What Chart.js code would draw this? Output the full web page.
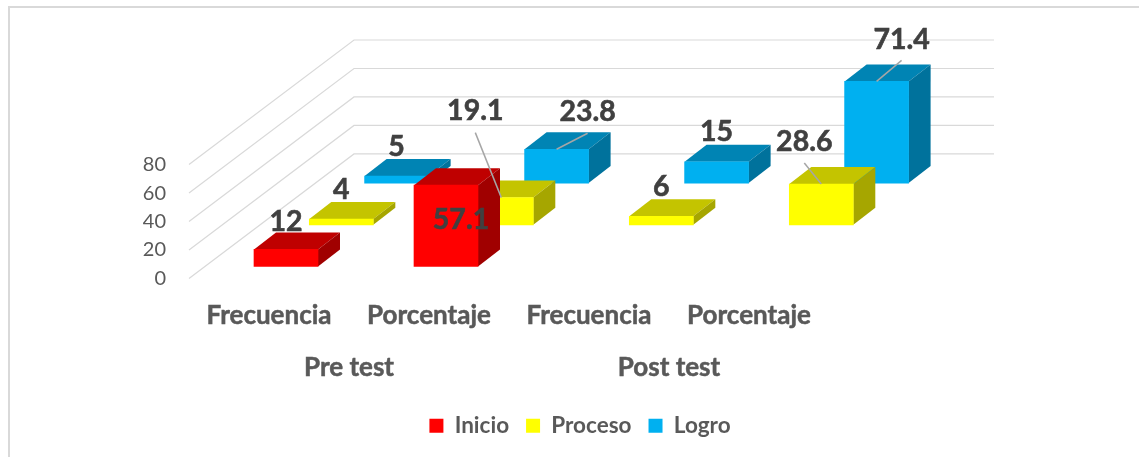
<!DOCTYPE html>
<html><head><meta charset="utf-8">
<script src="https://cdn.jsdelivr.net/npm/chart.js@4"></script>
<style>html,body{margin:0;padding:0;background:#fff}canvas{display:block}</style>
</head><body><canvas id="c" width="1139" height="457"></canvas>
<script>
const categories = ["Frecuencia", "Porcentaje", "Frecuencia", "Porcentaje"];
const groupLabels = ["Pre test", "Post test"];
const yTicks = [0, 20, 40, 60, 80];
const inicio = [12, 57.1, null, null];
const proceso = [4, 19.1, 6, 28.6];
const logro = [5, 23.8, 15, 71.4];

// 3D projection settings (separate from the data)
const wallShift = {x: 165, y: -124.6};
const rowShift = [{x: 17, y: -12}, {x: 72.3, y: -53.7}, {x: 127.6, y: -95.4}];
const barDepth = {x: 22, y: -17};
const legendShift = {x: 101, y: -3};
const faceColors = [
  {front: "#ff0000", top: "#bf0000", side: "#a00000"},
  {front: "#ffff00", top: "#c4c400", side: "#a6a600"},
  {front: "#00b0f0", top: "#0084b4", side: "#00729c"}
];
const labelOffsets = [
  [[0, -28], [15, 35], null, null],
  [[0, -29], [-26, -87], [0, -29], [-17, -42]],
  [[0, -29], [31, -37], [0, -30], [25, -42]]
];
const leaderLines = [
  [false, false, false, false],
  [false, true, false, true],
  [false, true, false, true]
];

const BC = Chart.BarController;
class Bar3D extends BC {
  updateElement(el, index, props, mode) {
    const s = rowShift[this.index];
    if (props.x !== undefined) props.x += s.x;
    if (props.y !== undefined) props.y += s.y;
    if (props.base !== undefined) props.base += s.y;
    super.updateElement(el, index, props, mode);
  }
  draw() {
    const ctx = this.chart.ctx, c = faceColors[this.index], d = barDepth;
    const values = this.getDataset().data;
    this.getMeta().data.forEach((b, j) => {
      if (b.skip || values[j] === null) return;
      const l = b.x - b.width / 2, r = b.x + b.width / 2;
      ctx.save();
      ctx.fillStyle = c.top;
      ctx.beginPath();
      ctx.moveTo(l, b.y); ctx.lineTo(l + d.x, b.y + d.y);
      ctx.lineTo(r + d.x, b.y + d.y); ctx.lineTo(r, b.y);
      ctx.closePath(); ctx.fill();
      ctx.fillStyle = c.side;
      ctx.beginPath();
      ctx.moveTo(r, b.y); ctx.lineTo(r + d.x, b.y + d.y);
      ctx.lineTo(r + d.x, b.base + d.y); ctx.lineTo(r, b.base);
      ctx.closePath(); ctx.fill();
      ctx.restore();
    });
    super.draw();
  }
}
Bar3D.id = "bar3d";
Bar3D.defaults = BC.defaults;
Bar3D.overrides = BC.overrides;
Chart.register(Bar3D);

const framePlugin = {
  id: "frame",
  afterLayout(chart) {
    const lg = chart.legend;
    lg.left += legendShift.x; lg.right += legendShift.x;
    lg.top += legendShift.y; lg.bottom += legendShift.y;
  },
  beforeDraw(chart) {
    const ctx = chart.ctx;
    ctx.save();
    ctx.strokeStyle = "#d9d9d9"; ctx.lineWidth = 2;
    ctx.beginPath();
    ctx.moveTo(9, 457); ctx.lineTo(9, 7); ctx.lineTo(1139, 7);
    ctx.stroke();
    ctx.restore();
  }
};
const wallPlugin = {
  id: "wall",
  beforeDatasetsDraw(chart) {
    const ctx = chart.ctx, ys = chart.scales.y, xs = chart.scales.x;
    ctx.save();
    ctx.strokeStyle = "#d9d9d9"; ctx.lineWidth = 1.2;
    yTicks.forEach(v => {
      const y = ys.getPixelForValue(v);
      ctx.beginPath();
      ctx.moveTo(xs.left, y);
      ctx.lineTo(xs.left + wallShift.x, y + wallShift.y);
      ctx.lineTo(xs.right + wallShift.x, y + wallShift.y);
      ctx.stroke();
    });
    ctx.restore();
  }
};
const labelPlugin = {
  id: "values",
  afterDatasetsDraw(chart) {
    const ctx = chart.ctx;
    ctx.save();
    chart.data.datasets.forEach((ds, i) => {
      chart.getDatasetMeta(i).data.forEach((b, j) => {
        if (b.skip || ds.data[j] === null) return;
        const o = labelOffsets[i][j];
        const lx = b.x + o[0], ly = b.y + o[1];
        if (leaderLines[i][j]) {
          ctx.strokeStyle = "#a6a6a6"; ctx.lineWidth = 1.5;
          ctx.beginPath();
          ctx.moveTo(b.x, b.y);
          ctx.lineTo(lx, ly + (o[1] < -60 ? 22 : 21));
          ctx.stroke();
        }
        ctx.fillStyle = "#404040";
        ctx.strokeStyle = "#404040"; ctx.lineWidth = 0.6;
        ctx.font = "bold 28.5px Lato";
        ctx.textAlign = "center"; ctx.textBaseline = "middle";
        ctx.fillText(String(ds.data[j]), lx, ly);
        ctx.strokeText(String(ds.data[j]), lx, ly);
      });
    });
    ctx.restore();
  }
};

const tickGrey = "#595959";
new Chart(document.getElementById("c"), {
  type: "bar3d",
  data: {
    labels: categories,
    datasets: [
      {label: "Inicio", data: inicio, backgroundColor: faceColors[0].front, order: 1},
      {label: "Proceso", data: proceso, backgroundColor: faceColors[1].front, order: 2},
      {label: "Logro", data: logro, backgroundColor: faceColors[2].front, order: 3}
    ].map(d => Object.assign(d, {grouped: false, barThickness: 64, clip: false, xAxisID: "x", yAxisID: "y"}))
  },
  options: {
    responsive: false,
    animation: false,
    layout: {padding: {left: 129, right: 310, top: 164.6, bottom: 7}},
    plugins: {
      tooltip: {enabled: false},
      legend: {
        position: "bottom",
        labels: {boxWidth: 14, boxHeight: 14, padding: 17, color: tickGrey, font: {family: "Lato", size: 22.5, weight: "bold"}}
      }
    },
    scales: {
      x: {
        type: "category", offset: true, weight: 0,
        grid: {display: false}, border: {display: false},
        ticks: {color: tickGrey, textStrokeColor: tickGrey, textStrokeWidth: 0.5, padding: 14, maxRotation: 0, autoSkip: false, font: {family: "Lato", size: 26, weight: "bold"}},
        afterFit(s) { s.height = 62; }
      },
      x2: {
        type: "category", axis: "x", labels: groupLabels, position: "bottom", offset: true, weight: 1,
        grid: {display: false}, border: {display: false},
        ticks: {color: tickGrey, textStrokeColor: tickGrey, textStrokeWidth: 0.5, padding: 4, maxRotation: 0, font: {family: "Lato", size: 26, weight: "bold"}},
        afterFit(s) { s.height = 60; }
      },
      y: {
        type: "linear", min: 0, max: 80,
        grid: {display: false}, border: {display: false},
        ticks: {stepSize: 20, color: tickGrey, padding: 15, font: {family: "Lato", size: 20}},
        afterFit(s) { s.width = 60; }
      }
    }
  },
  plugins: [framePlugin, wallPlugin, labelPlugin]
});
</script></body></html>
